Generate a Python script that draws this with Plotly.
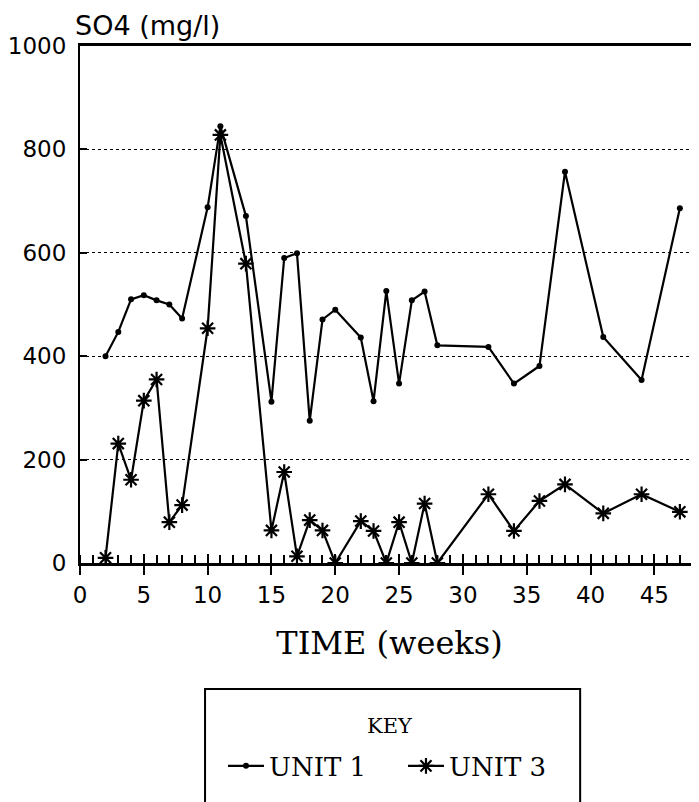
import plotly.graph_objects as go

# Unit 1 (dots)
weeks_u1 = [2, 3, 4, 5, 6, 7, 8, 10, 11, 13, 15, 16, 17, 18, 19, 20, 22, 23, 24, 25, 26, 27, 28, 32, 34, 36, 38, 41, 44, 47]
so4_u1 = [400, 447, 510, 518, 508, 500, 473, 688, 845, 671, 312, 590, 599, 275, 471, 490, 436, 313, 526, 347, 508, 525, 421, 418, 347, 381, 757, 437, 354, 686]

# Unit 3 (asterisks)
weeks_u3 = [2, 3, 4, 5, 6, 7, 8, 10, 11, 13, 15, 16, 17, 18, 19, 20, 22, 23, 24, 25, 26, 27, 28, 32, 34, 36, 38, 41, 44, 47]
so4_u3 = [10, 231, 161, 314, 355, 79, 112, 454, 828, 579, 63, 176, 13, 83, 63, 0, 81, 62, 0, 79, 0, 115, 0, 133, 62, 120, 152, 96, 133, 99]

x_ticks = [0, 5, 10, 15, 20, 25, 30, 35, 40, 45]
y_ticks = [0, 200, 400, 600, 800, 1000]

SANS = "DejaVu Sans"
SERIF = "DejaVu Serif"
XR = [0, 48.5]

fig = go.Figure()
fig.add_trace(go.Scatter(
    x=weeks_u1, y=so4_u1, mode="lines+markers", name="UNIT 1",
    line=dict(color="black", width=2.2),
    marker=dict(symbol="circle", size=6, color="black"),
))
fig.add_trace(go.Scatter(
    x=weeks_u3, y=so4_u3, mode="lines+markers", name="UNIT 3",
    line=dict(color="black", width=2.2),
    marker=dict(symbol="asterisk-open", size=13, color="black",
                line=dict(color="black", width=2.2)),
))
# helper trace so the overlay axis (inside major ticks) is drawn
fig.add_trace(go.Scatter(x=[XR[0]], y=[0], xaxis="x2", mode="none",
                         showlegend=False, hoverinfo="skip"))

fig.update_layout(
    width=691, height=794,
    margin=dict(l=72, r=0, t=38, b=239),
    paper_bgcolor="white", plot_bgcolor="white",
    font=dict(family=SANS, color="black"),
    xaxis=dict(
        range=XR, type="linear", tickvals=x_ticks, ticktext=[str(v) for v in x_ticks],
        ticks="outside", ticklen=9, tickwidth=2, tickcolor="black",
        minor=dict(dtick=1, ticks="inside", ticklen=8, tickwidth=2, tickcolor="black"),
        showline=True, linewidth=3, linecolor="black", mirror=True,
        showgrid=False, zeroline=False,
        tickfont=dict(family=SANS, size=23), ticklabelstandoff=0,
        title=dict(text="TIME (weeks)", font=dict(family=SERIF, size=32), standoff=26),
    ),
    xaxis2=dict(
        range=XR, type="linear", overlaying="x", anchor="y", side="bottom",
        tickvals=x_ticks, ticks="inside", ticklen=9, tickwidth=2, tickcolor="black",
        showticklabels=False, showgrid=False, zeroline=False, showline=False,
    ),
    yaxis=dict(
        range=[0, 1000], tickvals=y_ticks, ticktext=[str(v) for v in y_ticks],
        ticks="inside", ticklen=7, tickwidth=2, tickcolor="black",
        showline=True, linewidth=2, linecolor="black",
        showgrid=True, gridcolor="black", gridwidth=1, griddash="dot",
        zeroline=False, tickfont=dict(family=SANS, size=23), ticklabelstandoff=7,
    ),
    showlegend=True,
    legend=dict(
        orientation="h", x=0.231, xanchor="left", y=-0.3926, yanchor="middle",
        font=dict(family=SERIF, size=26), bgcolor="rgba(0,0,0,0)",
        borderwidth=0, itemwidth=36, entrywidth=129, entrywidthmode="pixels",
    ),
    annotations=[
        dict(text="SO4 (mg/l)", xref="paper", yref="paper", x=-0.012, y=1.0,
             xanchor="left", yanchor="bottom", yshift=3, showarrow=False,
             font=dict(family=SANS, size=27)),
        dict(text="KEY", xref="paper", yref="paper", x=0.5, y=-0.3153,
             xanchor="center", yanchor="middle", showarrow=False,
             font=dict(family=SERIF, size=21)),
    ],
    shapes=[dict(
        type="rect", xref="paper", yref="paper",
        x0=0.202, x1=0.808, y0=-0.48, y1=-0.2437,
        line=dict(color="black", width=2), fillcolor="rgba(0,0,0,0)",
    )],
)

fig.write_html("out.html")
